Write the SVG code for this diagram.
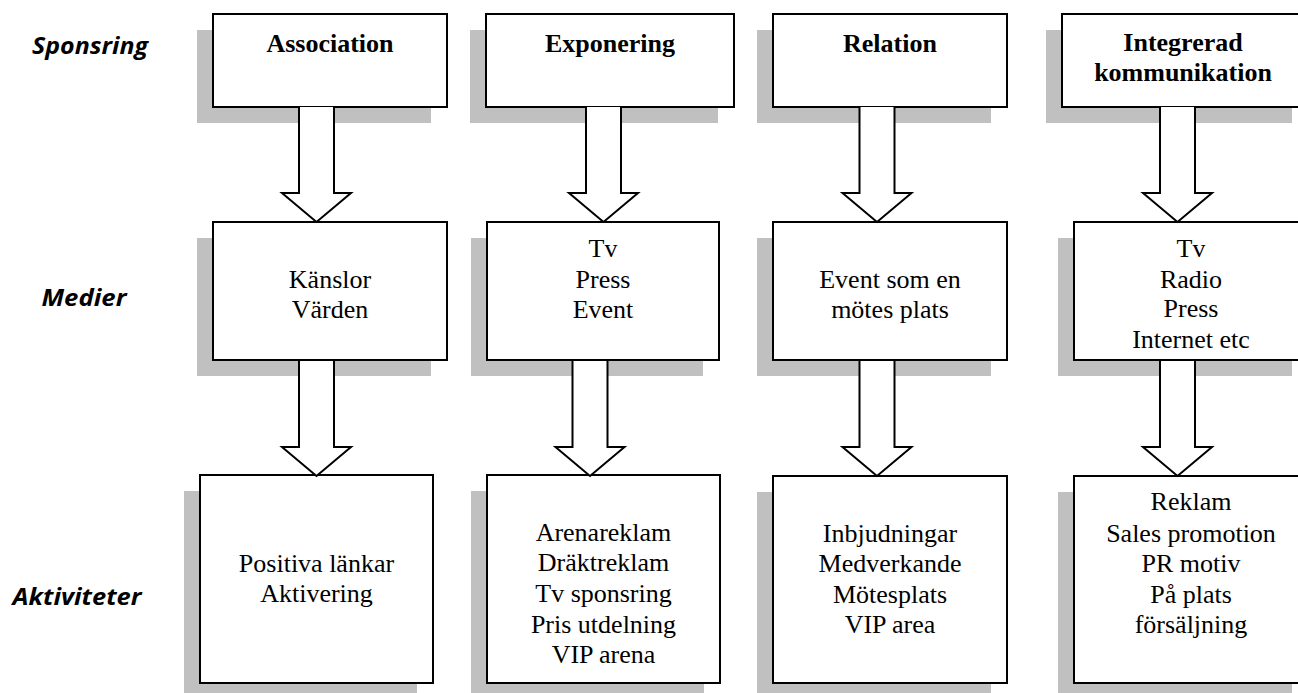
<svg xmlns="http://www.w3.org/2000/svg" width="1298" height="693" viewBox="0 0 1298 693">
<style>
.sh{fill:#c0c0c0;stroke:none}
.bx{fill:#fff;stroke:#000;stroke-width:2}
.ar{fill:#fff;stroke:#000;stroke-width:2;stroke-linejoin:miter}
.t{font-family:"Liberation Serif","Times New Roman",serif;font-size:26px;fill:#000;text-anchor:middle}
.b{font-weight:bold}
.lab{font-family:"Open Sans","Noto Sans",sans-serif;font-size:24px;font-weight:bold;font-style:italic;fill:#000;text-anchor:middle}
</style>
<defs>
<path id="arrow" d="M -17.5,-115 V -29 H -34.5 L 0,0 L 34.5,-29 H 17.5 V -115"/>
</defs>
<rect width="1298" height="693" fill="#fff"/>

<g id="row-labels">
<text class="lab" x="90" y="54" textLength="116" lengthAdjust="spacingAndGlyphs">Sponsring</text>
<text class="lab" x="84" y="306" textLength="85" lengthAdjust="spacingAndGlyphs">Medier</text>
<text class="lab" x="77" y="605" textLength="129" lengthAdjust="spacingAndGlyphs">Aktiviteter</text>
</g>

<!-- Column 1 -->
<g id="association">
<rect class="sh" x="197" y="30" width="234" height="93"/>
<rect class="bx" x="213" y="14" width="234" height="93"/>
<text class="t b" x="330" y="52">Association</text>
</g>
<g id="kanslor">
<rect class="sh" x="197" y="238" width="234" height="138"/>
<rect class="bx" x="213" y="222" width="234" height="138"/>
<text class="t" x="330" y="288">Känslor</text>
<text class="t" x="330" y="318">Värden</text>
</g>
<g id="positiva">
<rect class="sh" x="184" y="491" width="233" height="208"/>
<rect class="bx" x="200" y="475" width="233" height="208"/>
<text class="t" x="316.5" y="572">Positiva länkar</text>
<text class="t" x="316.5" y="602">Aktivering</text>
</g>

<!-- Column 2 -->
<g id="exponering">
<rect class="sh" x="470" y="30" width="248" height="93"/>
<rect class="bx" x="486" y="14" width="248" height="93"/>
<text class="t b" x="610" y="52">Exponering</text>
</g>
<g id="tv-press-event">
<rect class="sh" x="471" y="238" width="232" height="138"/>
<rect class="bx" x="487" y="222" width="232" height="138"/>
<text class="t" x="603" y="257">Tv</text>
<text class="t" x="603" y="288">Press</text>
<text class="t" x="603" y="318">Event</text>
</g>
<g id="arenareklam">
<rect class="sh" x="471" y="491" width="233" height="208"/>
<rect class="bx" x="487" y="475" width="233" height="208"/>
<text class="t" x="603.5" y="541">Arenareklam</text>
<text class="t" x="603.5" y="571">Dräktreklam</text>
<text class="t" x="603.5" y="602">Tv sponsring</text>
<text class="t" x="603.5" y="633">Pris utdelning</text>
<text class="t" x="603.5" y="663">VIP arena</text>
</g>

<!-- Column 3 -->
<g id="relation">
<rect class="sh" x="757" y="30" width="234" height="93"/>
<rect class="bx" x="773" y="14" width="234" height="93"/>
<text class="t b" x="890" y="52">Relation</text>
</g>
<g id="event-mote">
<rect class="sh" x="757" y="238" width="234" height="138"/>
<rect class="bx" x="773" y="222" width="234" height="138"/>
<text class="t" x="890" y="288">Event som en</text>
<text class="t" x="890" y="318">mötes plats</text>
</g>
<g id="inbjudningar">
<rect class="sh" x="757" y="492" width="234" height="207"/>
<rect class="bx" x="773" y="476" width="234" height="207"/>
<text class="t" x="890" y="542">Inbjudningar</text>
<text class="t" x="890" y="572">Medverkande</text>
<text class="t" x="890" y="603">Mötesplats</text>
<text class="t" x="890" y="633">VIP area</text>
</g>

<!-- Column 4 -->
<g id="integrerad">
<rect class="sh" x="1046" y="30" width="246" height="93"/>
<rect class="bx" x="1062" y="14" width="246" height="93"/>
<text class="t b" x="1183" y="51">Integrerad</text>
<text class="t b" x="1183" y="81">kommunikation</text>
</g>
<g id="tv-radio">
<rect class="sh" x="1058" y="238" width="234" height="138"/>
<rect class="bx" x="1074" y="222" width="234" height="138"/>
<text class="t" x="1191" y="257">Tv</text>
<text class="t" x="1191" y="288">Radio</text>
<text class="t" x="1191" y="317">Press</text>
<text class="t" x="1191" y="348">Internet etc</text>
</g>
<g id="reklam">
<rect class="sh" x="1058" y="492" width="234" height="207"/>
<rect class="bx" x="1074" y="476" width="234" height="207"/>
<text class="t" x="1191" y="510">Reklam</text>
<text class="t" x="1191" y="542">Sales promotion</text>
<text class="t" x="1191" y="572">PR motiv</text>
<text class="t" x="1191" y="603">På plats</text>
<text class="t" x="1191" y="633">försäljning</text>
</g>

<g id="connectors" class="ar">
<use href="#arrow" x="316.5" y="222"/>
<use href="#arrow" x="316.5" y="476"/>
<use href="#arrow" x="603.5" y="222"/>
<use href="#arrow" x="590" y="476"/>
<use href="#arrow" x="877" y="222"/>
<use href="#arrow" x="877" y="476"/>
<use href="#arrow" x="1177.5" y="222"/>
<use href="#arrow" x="1177.5" y="476"/>
</g>
</svg>
